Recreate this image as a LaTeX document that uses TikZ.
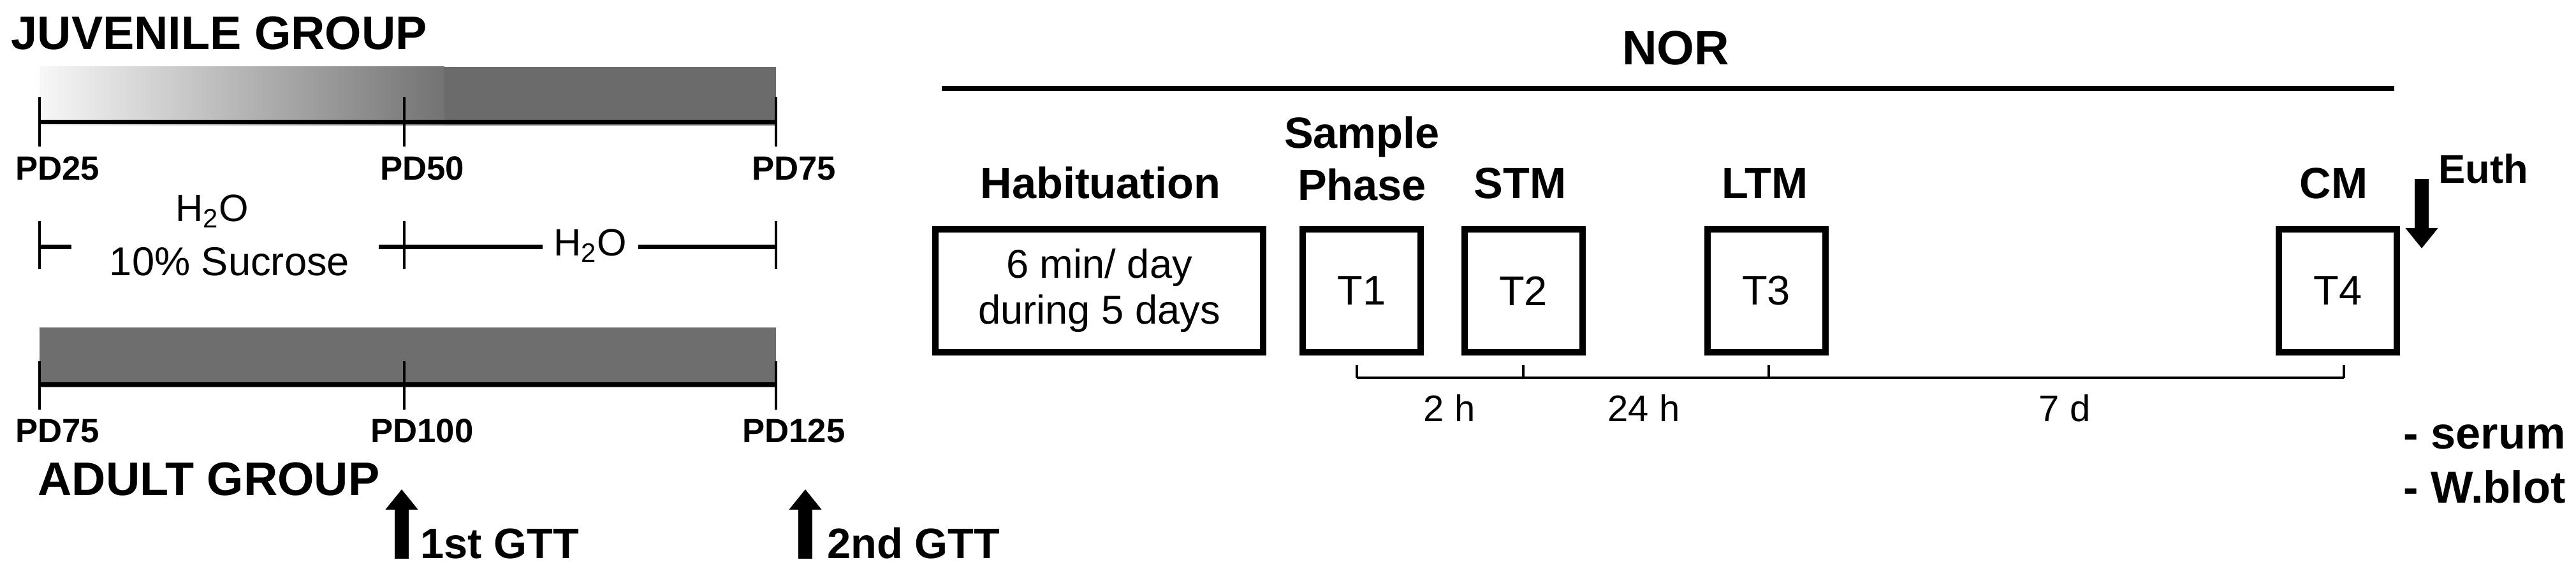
\documentclass[tikz,border=0pt]{standalone}
\usepackage{fontspec}
\setmainfont{Liberation Sans}
\usepackage{xcolor}
\usepackage{tikz}
\usetikzlibrary{arrows.meta}
\usetikzlibrary{positioning}

\begin{document}
\begin{tikzpicture}[
    grp/.style={font=\fontsize{21pt}{25pt}\selectfont\bfseries, inner sep=0pt, anchor=base west},
    pdlab/.style={font=\fontsize{15pt}{18pt}\selectfont\bfseries, inner sep=0pt, anchor=base},
    phasehead/.style={font=\fontsize{19.5pt}{23.3pt}\selectfont\bfseries, inner sep=0pt, anchor=base},
    drink/.style={font=\fontsize{17pt}{20pt}\selectfont, inner sep=0pt, anchor=base},
    phasebox/.style={draw, line width=0.1cm, minimum width=1.85cm, minimum height=1.93cm, inner sep=0pt, font=\fontsize{18.5pt}{21pt}\selectfont},
    gaplab/.style={font=\fontsize{16.5pt}{19pt}\selectfont, inner sep=0pt, anchor=base},
    bigarrow/.style={line width=0.22cm, -{Triangle[width=0.49cm, length=0.32cm]}},
    tickline/.style={line width=1.3pt},
    barline/.style={line width=2pt},
]
\useasboundingbox (0,0) rectangle (40.4,8.9);

% juvenile group
\node[grp] (juv) at (0.17,8.12) {JUVENILE GROUP};
\shade[left color=black!3, right color=black!55] (0.62,6.93) rectangle (6.97,7.85);
\fill[black!58] (6.97,6.93) rectangle (12.17,7.85);
\draw[barline] (0.62,6.98) -- (12.17,6.98);
\foreach \x/\d in {0.62/25, 6.34/50, 12.17/75}{
    \draw[tickline] (\x,7.38) -- (\x,6.60);
    \node[pdlab] (jpd\d) at (\x+0.28,6.07) {PD\d};
}

% drinking periods
\coordinate (lvl) at (0,5.02);
\node[drink] (h2oa) at (3.33,5.42) {H\textsubscript{2}O};
\node[drink, font=\fontsize{18pt}{20pt}\selectfont] (sucr) at (3.60,4.57) {10\% Sucrose};
\node[drink, inner xsep=0.17cm] (h2ob) at (9.26,4.88) {H\textsubscript{2}O};
\foreach \x in {0.62, 6.34, 12.17}
    \draw[tickline] (\x,5.43) -- (\x,4.68);
\draw[barline] (0.62,5.02) -- (1.12,5.02);
\draw[barline] (5.94,5.02) -- (h2ob.west |- lvl);
\draw[barline] (h2ob.east |- lvl) -- (12.17,5.02);

% adult group
\fill[black!57] (0.62,2.82) rectangle (12.17,3.76);
\draw[barline] (0.62,2.86) -- (12.17,2.86);
\foreach \x/\d in {0.62/75, 6.34/100, 12.17/125}{
    \draw[tickline] (\x,3.23) -- (\x,2.47);
    \node[pdlab] (apd\d) at (\x+0.28,1.95) {PD\d};
}
\node[grp] (adult) at (0.59,1.12) {ADULT GROUP};

% glucose tolerance tests
\coordinate (g1b) at (6.30,0.13);
\coordinate (g1t) at (6.30,1.22);
\coordinate (g2b) at (12.63,0.13);
\coordinate (g2t) at (12.63,1.22);
\draw[bigarrow] (g1b) -- (g1t);
\draw[bigarrow] (g2b) -- (g2t);
\node[grp, font=\fontsize{19pt}{23pt}\selectfont\bfseries] (gtt1) at (6.59,0.13) {1st GTT};
\node[grp, font=\fontsize{19pt}{23pt}\selectfont\bfseries] (gtt2) at (12.97,0.13) {2nd GTT};

% NOR protocol
\node[phasehead, font=\fontsize{21.5pt}{25pt}\selectfont\bfseries] (nor) at (26.28,7.88) {NOR};
\draw[line width=0.08cm] (14.77,7.51) -- (37.55,7.51);

\node[phasebox, minimum width=5.14cm, align=center, font=\fontsize{18pt}{20.5pt}\selectfont] (hab) at (17.24,4.335) {6 min/ day\\during 5 days};
\node[phasebox] (t1) at (21.355,4.335) {T1};
\node[phasebox] (t2) at (23.89,4.335) {T2};
\node[phasebox] (t3) at (27.70,4.335) {T3};
\node[phasebox] (t4) at (36.665,4.335) {T4};

\node[phasehead] (habh) at (17.26,5.78) {Habituation};
\node[phasehead, anchor=north, align=center] (samph) at (21.36,7.08) {Sample\\Phase};
\node[phasehead] (stmh) at (23.84,5.78) {STM};
\node[phasehead] (ltmh) at (27.68,5.78) {LTM};
\node[phasehead] (cmh) at (36.60,5.78) {CM};

% intervals between trials
\coordinate (b1) at (21.28,2.97);
\coordinate (b2) at (23.89,2.97);
\coordinate (b3) at (27.74,2.97);
\coordinate (b4) at (36.76,2.97);
\draw[line width=1.4pt] (b1) -- (b4);
\foreach \b in {b1,b2,b3,b4}
    \draw[line width=0.9pt] (\b) -- ++(0,0.2);
\node[gaplab] (d2h) at (22.73,2.28) {2 h};
\node[gaplab] (d24h) at (25.78,2.28) {24 h};
\node[gaplab] (d7d) at (32.38,2.28) {7 d};

% euthanasia
\coordinate (eutht) at (37.98,6.09);
\coordinate (euthb) at (37.98,5.00);
\draw[bigarrow] (eutht) -- (euthb);
\node[grp, font=\fontsize{18pt}{22pt}\selectfont\bfseries] (euth) at (38.24,6.02) {Euth};
\node[grp, font=\fontsize{20pt}{24pt}\selectfont\bfseries] (serum) at (37.69,1.85) {- serum};
\node[grp, font=\fontsize{20pt}{24pt}\selectfont\bfseries] (wblot) at (37.69,1.00) {- W.blot};
\end{tikzpicture}
\end{document}
